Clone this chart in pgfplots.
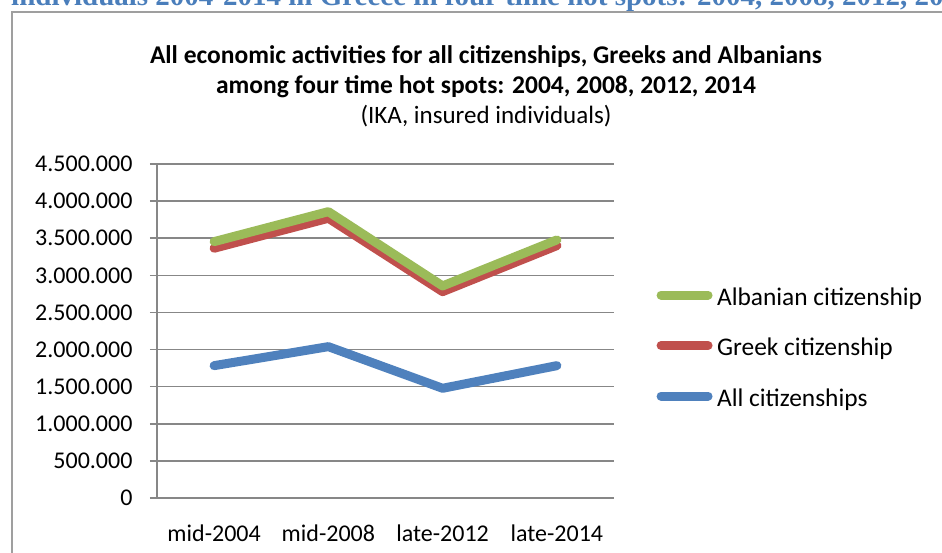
\documentclass[border=0pt]{standalone}
\usepackage{fontspec}
\setmainfont{Carlito}
\newfontfamily\docserif{Liberation Serif}
\usepackage{pgfplots}
\pgfplotsset{compat=1.18}

\definecolor{xlgreen}{HTML}{9BBB59}
\definecolor{xlred}{HTML}{C0504D}
\definecolor{xlblue}{HTML}{4F81BD}
\definecolor{gridgray}{HTML}{878787}
\definecolor{docblue}{HTML}{4A7EBB}

\begin{document}
\begin{tikzpicture}[x=1pt,y=1pt]
\useasboundingbox (0,0) rectangle (942,553);
\clip (0,0) rectangle (942,553);

% heading of the surrounding document, cut off at the top
\node[anchor=base west, inner sep=0, text=docblue, font=\docserif\bfseries\fontsize{29}{33}\selectfont]
  at (11,547) {individuals 2004-2014 in Greece in four time hot spots: 2004, 2008, 2012, 2014};

% chart frame
\draw[gray!75, line width=2.5pt] (12,-5) -- (12,541) -- (960,541);

% title
\node[anchor=base, inner sep=0, font=\bfseries\fontsize{25.5}{29}\selectfont] at (486,489) {All economic activities for all citizenships, Greeks and Albanians};
\node[anchor=base, inner sep=0, font=\bfseries\fontsize{25.5}{29}\selectfont] at (486,459) {among four time hot spots: 2004, 2008, 2012, 2014};
\node[anchor=base, inner sep=0, font=\fontsize{25}{29}\selectfont] at (486,429) {(IKA, insured individuals)};

\begin{axis}[
    at={(157pt,55pt)}, anchor=south west,
    scale only axis, width=457pt, height=334pt,
    xmin=0.5, xmax=4.5, ymin=0, ymax=4500000,
    axis lines*=left,
    axis line style={gridgray, line width=1.5pt},
    xtick={1,2,3,4},
    xticklabels={mid-2004, mid-2008, late-2012, late-2014},
    extra x ticks={0.5,1.5,2.5,3.5,4.5},
    extra x tick labels={},
    extra x tick style={major tick length=7pt, grid=none},
    ytick={0,500000,...,4500000},
    scaled y ticks=false,
    /pgf/number format/fixed,
    /pgf/number format/precision=0,
    /pgf/number format/1000 sep={.},
    /pgf/number format/assume math mode=true,
    tick align=outside,
    major tick length=7pt,
    x tick style={draw=none},
    tick style={gridgray, line width=1.5pt},
    ymajorgrids,
    grid style={gridgray, line width=1.5pt},
    ticklabel style={font=\fontsize{24}{28}\selectfont},
    xticklabel style={yshift=-16pt},
    yticklabel style={xshift=-14pt},
    reverse legend,
    legend cell align=left,
    legend style={draw=none, fill=none, at={(1.0833,0.6317)}, anchor=north west,
      inner sep=0pt, outer sep=0pt, row sep=26.5pt,
      nodes={inner sep=0pt, text height=18pt, text depth=6pt, font=\fontsize{25.4}{29}\selectfont}},
    legend image code/.code={\draw[#1] (4.5pt,4pt) -- (51.5pt,4pt); \path (0pt,4pt) (56pt,4pt);},
    every axis plot/.append style={line width=9pt, line cap=round, line join=round},
]
\addplot[xlblue] coordinates {(1,1783000) (2,2039000) (3,1478000) (4,1783000)};
\addlegendentry{All citizenships}
\addplot[xlred] coordinates {(1,3365000) (2,3769000) (3,2780000) (4,3400000)};
\addlegendentry{Greek citizenship}
\addplot[xlgreen] coordinates {(1,3454000) (2,3858000) (3,2857000) (4,3477000)};
\addlegendentry{Albanian citizenship}
\end{axis}
\end{tikzpicture}
\end{document}
